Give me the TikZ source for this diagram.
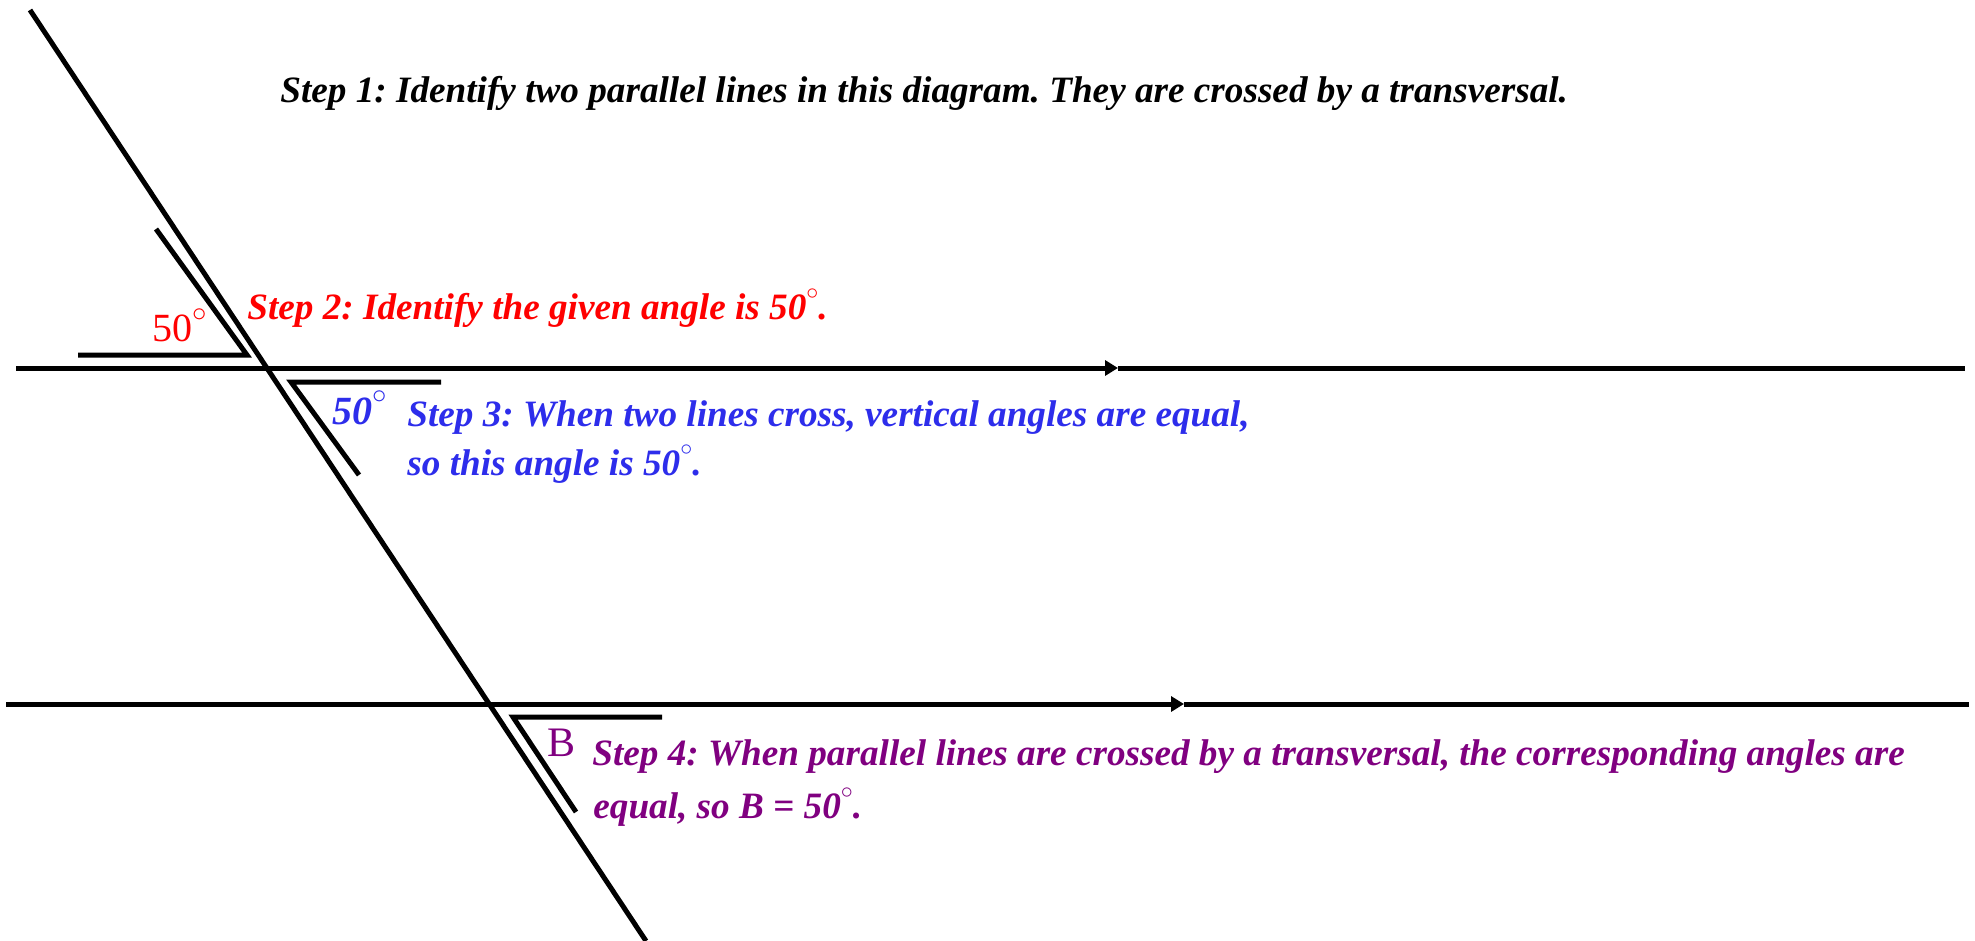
\documentclass[tikz,border=0pt]{standalone}
\usepackage{fontspec}
\setmainfont{Liberation Serif}
\usepackage{tikz}
\usetikzlibrary{arrows.meta,positioning}
\usepackage{xcolor}
\definecolor{stepred}{RGB}{255,0,0}
\definecolor{stepblue}{RGB}{45,45,235}
\definecolor{steppurple}{RGB}{128,0,128}
\newcommand{\degsym}{\raisebox{0.52em}{$\scriptstyle\circ$}}
\frenchspacing

\begin{document}
\begin{tikzpicture}[
x=0.5pt,y=-0.5pt,
geo/.style={line width=2.5pt,black},
tip/.style={-{Triangle[length=6.5pt,width=7.5pt]}},
steptext/.style={inner sep=0pt,anchor=base west,font=\fontsize{18.6}{24}\selectfont\bfseries\itshape},
anglabel/.style={inner sep=0pt,anchor=base west,font=\fontsize{20}{24}\selectfont}
]
\useasboundingbox (0,0) rectangle (1975,941);

% lines
\coordinate (t1) at (30,10);
\coordinate (t2) at (646,941);
\coordinate (h1) at (16,368);
\coordinate (ha) at (1118,368);
\coordinate (h2) at (1965,368);
\coordinate (g1) at (6,704);
\coordinate (ga) at (1184,704);
\coordinate (g2) at (1969,704);

\draw[geo] (t1) -- (t2);
\draw[geo,tip] (h1) -- (ha);
\draw[geo] (ha) -- (h2);
\draw[geo,tip] (g1) -- (ga);
\draw[geo] (ga) -- (g2);

% angle marks
\draw[geo] (156,229) -- (247,355) -- (78,355);
\draw[geo] (441,382) -- (291,382) -- (359,475);
\draw[geo] (662,717) -- (513,717) -- (576,812);

% labels
\node[anglabel,text=stepred] (given) at (152,342) {50\degsym};
\node[anglabel,text=stepblue,font=\fontsize{20}{24}\selectfont\bfseries\itshape] (vert) at (332,424) {50\degsym};
\node[anglabel,text=steppurple,font=\fontsize{21}{24}\selectfont] (angB) at (547,756) {B};

\node[steptext] (step1) at (280,103) {Step 1: Identify two parallel lines in this diagram. They are crossed by a transversal.};
\node[steptext,text=stepred] (step2) at (247,319) {Step 2: Identify the given angle is 50\degsym.};
\node[steptext,text=stepblue] (step3a) at (407,426) {Step 3: When two lines cross, vertical angles are equal,};
\node[steptext,text=stepblue] (step3b) at (407,475) {so this angle is 50\degsym.};
\node[steptext,text=steppurple] (step4a) at (592,765) {Step 4: When parallel lines are crossed by a transversal, the corresponding angles are};
\node[steptext,text=steppurple] (step4b) at (593,818) {equal, so B = 50\degsym.};
\end{tikzpicture}
\end{document}
